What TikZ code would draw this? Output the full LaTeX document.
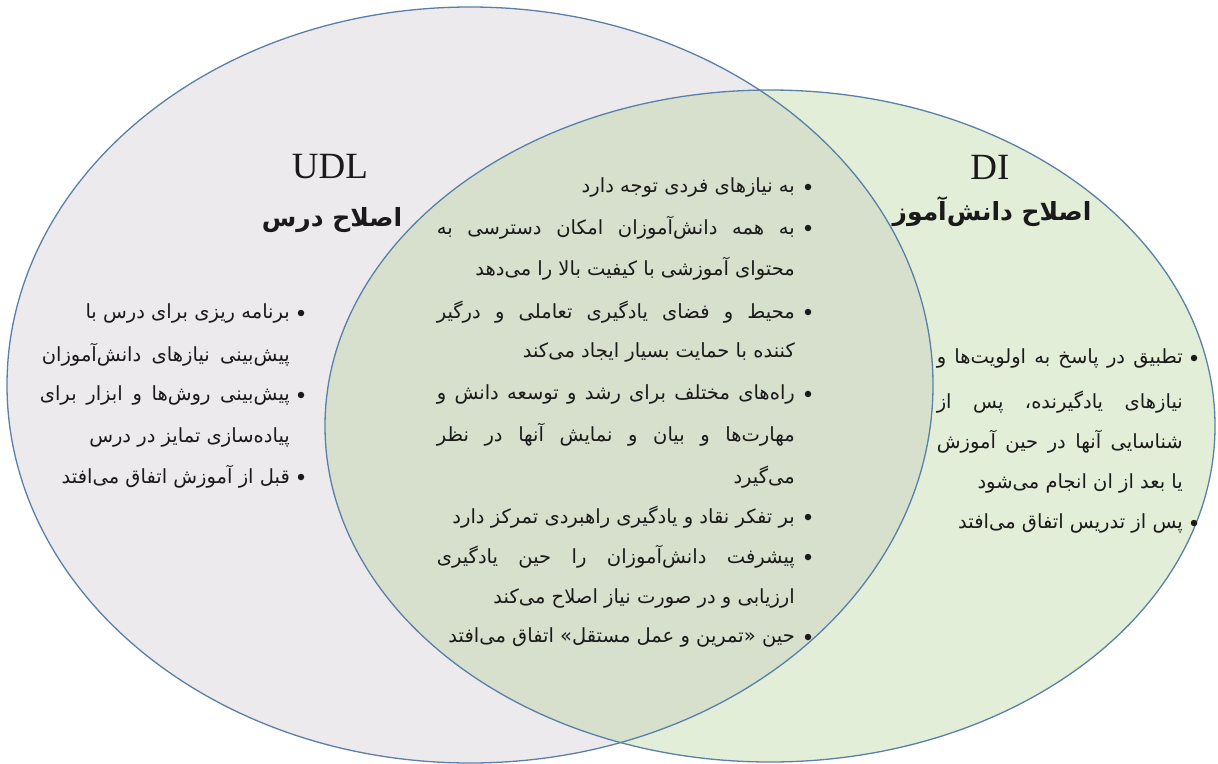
\documentclass[tikz,border=0pt]{standalone}
\usepackage{fontspec}
\setmainfont{Liberation Serif}
\newfontfamily\fa[Script=Arabic]{DejaVu Sans}
\TeXXeTstate=1
\definecolor{leftfill}{HTML}{ECEAEC}
\definecolor{rightfill}{HTML}{E3EED9}
\definecolor{midfill}{HTML}{D6E0CD}
\definecolor{edge}{HTML}{5A80A8}
\definecolor{ink}{HTML}{1A1A1A}
\tikzset{
  ftxt/.style={anchor=east, inner sep=0pt, text=ink, font=\fa\fontsize{19.5}{23}\selectfont},
  bul/.style={circle, fill=ink, inner sep=0pt, minimum size=6.5pt},
  titlelat/.style={inner sep=0pt, text=ink, font=\fontsize{37}{42}\selectfont},
  titlefa/.style={inner sep=0pt, text=ink, font=\fa\bfseries\fontsize{25}{30}\selectfont},
}
\newcommand{\jl}[2]{\makebox[#1pt][s]{#2}}
\begin{document}
\begin{tikzpicture}[x=1pt,y=-1pt]
\useasboundingbox (0,0) rectangle (1218,763);
% ellipses
\fill[leftfill] (470,385) ellipse [x radius=463, y radius=378];
\fill[rightfill] (770,426) ellipse [x radius=445, y radius=336];
\begin{scope}
  \clip (470,385) ellipse [x radius=463, y radius=378];
  \fill[midfill] (770,426) ellipse [x radius=445, y radius=336];
\end{scope}
\draw[edge, line width=1.3pt] (470,385) ellipse [x radius=463, y radius=378];
\draw[edge, line width=1.3pt] (770,426) ellipse [x radius=445, y radius=336];
% titles
\node[titlelat] (udl) at (330,167) {UDL};
\node[titlefa] (udlfa) at (332,220) {\beginR اصلاح درس\endR};
\node[titlelat] (di) at (990,167) {DI};
\node[titlefa] (difa) at (992,212) {\beginR اصلاح دانش^^^^200cآموز\endR};
% central bullets
\node[bul] (cb1) at (808,187) {};
\node[ftxt] (c1) at (795,187) {\beginR به نیازهای فردی توجه دارد\endR};
\node[bul] (cb2) at (808,228) {};
\node[ftxt] (c2) at (795,228) {\jl{358}{\beginR به همه دانش^^^^200cآموزان امکان دسترسی به\endR}};
\node[ftxt] (c3) at (795,269) {\beginR محتوای آموزشی با کیفیت بالا را می^^^^200cدهد\endR};
\node[bul] (cb3) at (808,312) {};
\node[ftxt] (c4) at (795,312) {\jl{358}{\beginR محیط و فضای یادگیری تعاملی و درگیر\endR}};
\node[ftxt] (c5) at (795,352) {\beginR کننده با حمایت بسیار ایجاد می^^^^200cکند\endR};
\node[bul] (cb4) at (808,394) {};
\node[ftxt] (c6) at (795,394) {\jl{358}{\beginR راه^^^^200cهای مختلف برای رشد و توسعه دانش و\endR}};
\node[ftxt] (c7) at (795,435) {\jl{358}{\beginR مهارت^^^^200cها و بیان و نمایش آنها در نظر\endR}};
\node[ftxt] (c8) at (795,477) {\beginR می^^^^200cگیرد\endR};
\node[bul] (cb5) at (808,517) {};
\node[ftxt] (c9) at (795,517) {\beginR بر تفکر نقاد و یادگیری راهبردی تمرکز دارد\endR};
\node[bul] (cb6) at (808,557) {};
\node[ftxt] (c10) at (795,557) {\jl{358}{\beginR پیشرفت دانش^^^^200cآموزان را حین یادگیری\endR}};
\node[ftxt] (c11) at (795,598) {\beginR ارزیابی و در صورت نیاز اصلاح می^^^^200cکند\endR};
\node[bul] (cb7) at (808,637) {};
\node[ftxt] (c12) at (795,637) {\beginR حین «تمرین و عمل مستقل» اتفاق می^^^^200cافتد\endR};
% left bullets
\node[bul] (lb1) at (301,313) {};
\node[ftxt] (l1) at (290,313) {\beginR برنامه ریزی برای درس با\endR};
\node[ftxt] (l2) at (290,355) {\jl{248}{\beginR پیش^^^^200cبینی نیازهای دانش^^^^200cآموزان\endR}};
\node[bul] (lb2) at (301,395) {};
\node[ftxt] (l3) at (290,395) {\jl{250}{\beginR پیش^^^^200cبینی روش^^^^200cها و ابزار برای\endR}};
\node[ftxt] (l4) at (290,437) {\beginR پیاده^^^^200cسازی تمایز در درس\endR};
\node[bul] (lb3) at (301,477) {};
\node[ftxt] (l5) at (290,477) {\beginR قبل از آموزش اتفاق می^^^^200cافتد\endR};
% right bullets
\node[bul] (rb1) at (1194,358) {};
\node[ftxt] (r1) at (1183,358) {\jl{246}{\beginR تطبیق در پاسخ به اولویت^^^^200cها و\endR}};
\node[ftxt] (r2) at (1183,402) {\jl{246}{\beginR نیازهای یادگیرنده، پس از\endR}};
\node[ftxt] (r3) at (1183,442) {\jl{246}{\beginR شناسایی آنها در حین آموزش\endR}};
\node[ftxt] (r4) at (1183,483) {\beginR یا بعد از ان انجام می^^^^200cشود\endR};
\node[bul] (rb2) at (1194,523) {};
\node[ftxt] (r5) at (1183,523) {\beginR پس از تدریس اتفاق می^^^^200cافتد\endR};
\end{tikzpicture}
\end{document}
